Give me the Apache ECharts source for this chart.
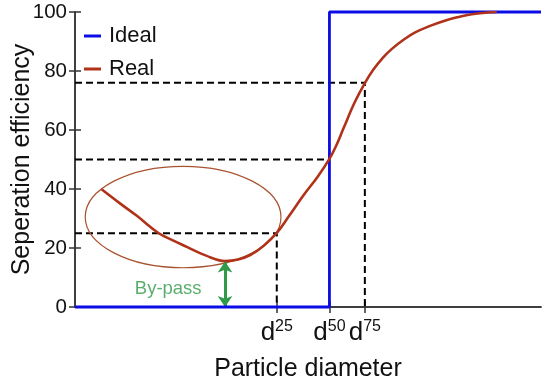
<!DOCTYPE html>
<html>
<head>
<meta charset="utf-8">
<script src="https://cdn.jsdelivr.net/npm/echarts@6/dist/echarts.min.js"></script>
<style>html,body{margin:0;padding:0;background:#fff;}#c{width:550px;height:383px;}</style>
</head>
<body>
<div id="c"></div>
<script>
// ---- data ----
const yTicks = [0, 20, 40, 60, 80, 100];
const dNames = ['25', '50', '75'];
const dX = [43.3, 54.6, 62.2];       // d25, d50, d75 positions on x (arbitrary units 0..100)
const dY = [25, 50, 76];             // efficiency at d25, d50, d75
const idealX = [0, 54.6, 54.6, 100];
const idealY = [0, 0, 100, 100];
const realX = [5.7, 9.5, 13.2, 17.9, 21, 24.0, 28, 32.2, 35, 37.6, 40.5, 43.3, 46, 49, 52, 54.6, 56, 57.6, 60, 62.2, 64, 66, 68, 70.5, 73, 76.2, 79, 82, 86, 90.5];
const realY = [39.9, 35.3, 31.0, 25.1, 22.6, 20.4, 17.5, 15.6, 16.1, 17.6, 20.8, 25.1, 31.0, 37.8, 44.0, 50.2, 54.5, 60.5, 69.3, 75.9, 80.4, 84.4, 87.5, 90.6, 93.1, 95.3, 96.9, 98.2, 99.4, 100];
const ellipse = [23.2, 30.5, 21.0, 17.2];   // cx, cy, rx, ry (data units)
const bypassX = 32.2, bypassTop = 15.4;
const bypassLabel = [20.0, 6.3];

const FONT = '"Liberation Sans", Arial, Helvetica, sans-serif';
const axisColor = '#333';
const realColor = '#b0321a';
const blue = '#0c0ce6';
const green = '#2f9a48';

const pairs = (xs, ys) => xs.map((x, i) => [x, ys[i]]);

const dashedSeries = dX.map((x, i) => ({
  type: 'line',
  data: i === 1 ? [[0, dY[i]], [x, dY[i]]] : [[0, dY[i]], [x, dY[i]], [x, 0]],
  symbol: 'none',
  lineStyle: { color: '#000', width: 2, type: [7, 4] },
  silent: true,
  z: 2
}));

const chart = echarts.init(document.getElementById('c'));
chart.setOption({
  animation: false,
  textStyle: { fontFamily: FONT },
  grid: { left: 75, right: 9, top: 12, bottom: 76, containLabel: false, outerBoundsMode: 'none' },
  legend: {
    left: 79, top: 20, orient: 'vertical', itemGap: 11,
    itemWidth: 17, itemHeight: 3, icon: 'rect',
    textStyle: { fontSize: 22, color: '#111', fontFamily: FONT, padding: [0, 0, 0, 3] },
    data: ['Ideal', 'Real']
  },
  xAxis: [{
    type: 'value', min: 0, max: 100,
    name: 'Particle diameter', nameLocation: 'middle', nameGap: 50,
    nameTextStyle: { fontSize: 25, color: '#111', fontFamily: FONT },
    axisLine: { show: true, lineStyle: { color: axisColor, width: 1.5 } },
    axisTick: { show: true, inside: true, length: 6, customValues: dX, lineStyle: { color: axisColor, width: 1.5 } },
    axisLabel: {
      show: true, customValues: dX, margin: 12,
      formatter: v => { const i = dX.indexOf(v); return i < 0 ? '' : '{d|d}{s|' + dNames[i] + '}'; },
      rich: {
        d: { fontSize: 26, color: '#111', fontFamily: FONT, lineHeight: 28 },
        s: { fontSize: 16, color: '#111', fontFamily: FONT, verticalAlign: 'top', lineHeight: 16 }
      }
    },
    splitLine: { show: false }
  }, {
    type: 'value', min: 0, max: 100, position: 'top',
    axisLine: { show: true, lineStyle: { color: axisColor, width: 1.5 } },
    axisTick: { show: true, inside: true, length: 6, customValues: dX, lineStyle: { color: axisColor, width: 1.5 } },
    axisLabel: { show: false }, splitLine: { show: false }
  }],
  yAxis: [{
    type: 'value', min: 0, max: 100, interval: 20,
    name: 'Seperation efficiency', nameLocation: 'middle', nameGap: 40, nameMoveOverlap: false,
    nameTextStyle: { fontSize: 25, color: '#111', fontFamily: FONT },
    axisLine: { show: true, lineStyle: { color: axisColor, width: 1.5 } },
    axisTick: { show: true, inside: true, length: 6, lineStyle: { color: axisColor, width: 1.5 } },
    axisLabel: { fontSize: 20.5, color: '#111', margin: 8, fontFamily: FONT,
      formatter: v => yTicks.indexOf(v) >= 0 ? String(v) : '' },
    splitLine: { show: false }
  }, {
    type: 'value', min: 0, max: 100, interval: 20, position: 'right',
    axisLine: { show: true, lineStyle: { color: axisColor, width: 1.5 } },
    axisTick: { show: true, inside: true, length: 6, lineStyle: { color: axisColor, width: 1.5 } },
    axisLabel: { show: false }, splitLine: { show: false }
  }],
  series: [
    ...dashedSeries,
    {
      type: 'custom', name: 'ellipse', silent: true, z: 3,
      data: [ellipse],
      renderItem: (params, api) => {
        const c = api.coord([api.value(0), api.value(1)]);
        const s = api.size([api.value(2), api.value(3)]);
        return { type: 'ellipse', shape: { cx: c[0], cy: c[1], rx: s[0], ry: s[1] },
          style: { fill: 'none', stroke: '#a9522f', lineWidth: 1.2 } };
      }
    },
    {
      type: 'line', name: 'Ideal', data: pairs(idealX, idealY), symbol: 'none', clip: false,
      lineStyle: { color: blue, width: 2.8 }, itemStyle: { color: blue }, z: 5
    },
    {
      type: 'line', name: 'Real', data: pairs(realX, realY), symbol: 'none',
      smooth: 0.4,
      lineStyle: { color: realColor, width: 2.6 }, itemStyle: { color: realColor }, z: 6,
      markLine: {
        silent: true, symbol: ['arrow', 'arrow'], symbolSize: [11, 11],
        label: { show: false },
        lineStyle: { color: green, width: 3, type: 'solid' },
        data: [[{ coord: [bypassX, bypassTop] }, { coord: [bypassX, 0] }]]
      }
    },
    {
      type: 'scatter', name: 'bypass', data: [bypassLabel], symbolSize: 0, silent: true,
      label: { show: true, position: 'inside', formatter: 'By-pass', fontSize: 18.5, color: green, fontFamily: FONT }
    }
  ]
});
</script>
</body>
</html>
